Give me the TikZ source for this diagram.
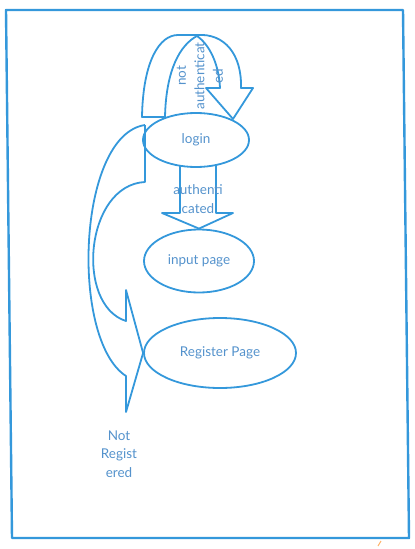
\documentclass[tikz,border=0pt]{standalone}
\usepackage{fontspec}
\setmainfont{Lato}
\usetikzlibrary{shapes.geometric}
\definecolor{lineblue}{RGB}{52,152,219}
\definecolor{textblue}{RGB}{84,146,204}
\begin{document}
\begin{tikzpicture}[x=1pt, y=-1pt, line join=round,
  state/.style={ellipse, draw=lineblue, line width=1.8pt, inner sep=0pt, text=textblue,
    font=\fontsize{13.5}{18.5}\selectfont},
  blockarrow/.style={draw=lineblue, line width=1.8pt},
  lbl/.style={text=textblue, align=center, font=\fontsize{13.5}{18.5}\selectfont}]
\useasboundingbox (0,0) rectangle (415,549);

 % frame
 \draw[lineblue, line width=2.4pt] (6,10) -- (403,10) -- (409,538) -- (12,538) -- cycle;
 \draw[orange!60, line width=1pt] (378,546) -- (381,541);

 % states
 \foreach \name/\x/\y/\w/\h/\txt in {login/196/140/106/54/login,
     input/199/261/110/63/input page, register/220/353/152/70/Register Page}
   \node[state, minimum width=\w pt, minimum height=\h pt] (\name) at (\x,\y) {\txt};

 % not authenticated
 \draw[blockarrow] (142,117) .. controls (143,60) and (160,35) .. (178,35) -- (197,35)
   .. controls (225,33) and (242,55) .. (241,88) -- (253,88) -- (233,119) -- (206,88) -- (220,88)
   .. controls (219,65) and (210,45) .. (197,36) .. controls (180,45) and (166,70) .. (165,117) -- cycle;
 \node[lbl, rotate=90] (notauth) at (200,76) {not\\authenticat\\ed};

 % authenticated
 \draw[blockarrow] (180,166) -- (180,213) -- (162,213) -- (input.north) -- (233,213) -- (216,213) -- (216,166);
 \node[lbl] (auth) at (198,199) {authenti\\cated};

 % not registered
 \draw[blockarrow] (145,125) -- (145,182) .. controls (85,185) and (75,305) .. (126,321)
   -- (126,290) -- (register.west) -- (126,412) -- (126,376) .. controls (70,340) and (77,135) .. (145,125);
 \node[lbl] (notreg) at (119,454) {Not\\Regist\\ered};

\end{tikzpicture}
\end{document}
